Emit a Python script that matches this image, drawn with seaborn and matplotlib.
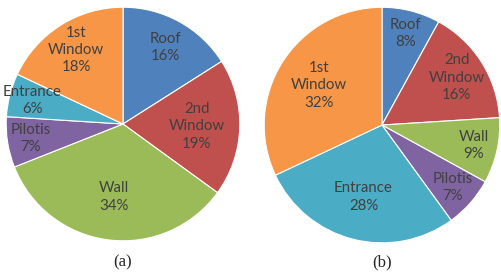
import matplotlib
matplotlib.use("Agg")
import matplotlib.pyplot as plt
import seaborn as sns
import numpy as np

# Datos
categories = ["Roof", "2nd Window", "Wall", "Pilotis", "Entrance", "1st Window"]
values_a = [16, 19, 34, 7, 6, 18]
values_b = [8, 16, 9, 7, 28, 32]
captions = ["(a)", "(b)"]
colors = ["#4F81BD", "#C0504D", "#9BBB59", "#8064A2", "#4BACC6", "#F79646"]

sns.set_style("white")
plt.rcParams["font.family"] = ["Lato", "DejaVu Sans"]

fig = plt.figure(figsize=(5.02, 2.76), dpi=100)
ax_a = fig.add_axes([0.0100, 0.1232, 0.470, 0.855])
ax_b = fig.add_axes([0.5239, 0.1159, 0.474, 0.862])


def draw_pie(ax, values):
    labels = [c.replace(" ", "\n") for c in categories]
    wedges, texts, autotexts = ax.pie(
        values, colors=sns.color_palette(colors), startangle=90,
        counterclock=False, autopct="%d%%", pctdistance=0.7,
        wedgeprops=dict(edgecolor="white", linewidth=0.8),
        textprops=dict(color="#404040", fontsize=10.8))
    # Etiqueta + porcentaje; las rebanadas chicas van mas afuera
    for w, t, lab, v in zip(wedges, autotexts, labels, values):
        t.set_text(f"{lab}\n{v}%")
        t.set_linespacing(1.3)
        ang = np.deg2rad((w.theta1 + w.theta2) / 2)
        if v < 10:
            d = 0.8
        elif v <= 18:
            d = 0.75
        else:
            d = 0.63
        t.set_position((d * np.cos(ang), d * np.sin(ang)))
    ax.set_xlim(-1.01, 1.01)
    ax.set_ylim(-1.01, 1.01)
    ax.set_aspect("equal")
    for w in wedges:
        w.set_clip_on(False)


draw_pie(ax_a, values_a)
draw_pie(ax_b, values_b)

fig.text(0.245, 0.051, captions[0], ha="center", va="center",
         family="Liberation Serif", fontsize=12)
fig.text(0.761, 0.051, captions[1], ha="center", va="center",
         family="Liberation Serif", fontsize=12)

fig.savefig("out.png", dpi=100)
